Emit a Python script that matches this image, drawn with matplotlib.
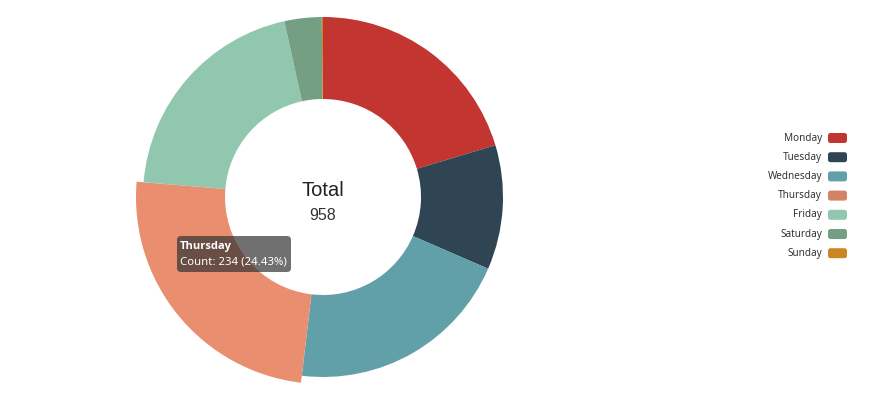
import matplotlib
matplotlib.use("Agg")
import matplotlib.pyplot as plt
from matplotlib.patches import FancyBboxPatch

days = ["Monday", "Tuesday", "Wednesday", "Thursday", "Friday", "Saturday", "Sunday"]
counts = [195, 107, 195, 234, 194, 32, 1]
colors = ["#c23531", "#2f4554", "#61a0a8", "#d48265", "#91c7ae", "#749f83", "#ca8622"]
highlight = "Thursday"
highlight_color = "#e98f70"

W, H = 881, 400
fig = plt.figure(figsize=(W / 100, H / 100), dpi=100)
ax = fig.add_axes([0, 0, 1, 1])

cx, cy = 323, H - 197
r_out, r_in = 180, 98
wedges, _ = ax.pie(counts, colors=colors, startangle=90, counterclock=False,
                   radius=r_out, center=(cx, cy), frame=True,
                   wedgeprops=dict(width=r_out - r_in, linewidth=0, antialiased=True))
ax.set_xlim(0, W)
ax.set_ylim(0, H)
ax.set_aspect("equal")
ax.axis("off")

hi = days.index(highlight)
wedges[hi].set_radius(r_out + 7)
wedges[hi].set_width(r_out + 7 - r_in)
wedges[hi].set_facecolor(highlight_color)

total = sum(counts)
ax.text(cx, H - 190, "Total", ha="center", va="center", fontsize=14.5, color="#222222",
        family="Liberation Sans")
ax.text(cx, H - 216, f"{total}", ha="center", va="center", fontsize=11.5, color="#333333",
        family="Liberation Sans")

# tooltip
tx0, ty0, tx1, ty1 = 177, 236, 291, 272
box = FancyBboxPatch((tx0, H - ty1), tx1 - tx0, ty1 - ty0,
                     boxstyle="round,pad=0,rounding_size=4",
                     facecolor=(0.2, 0.2, 0.2, 0.7), edgecolor="none", zorder=5)
ax.add_patch(box)
pct = counts[hi] / total * 100
ax.text(tx0 + 3, H - 246, highlight, ha="left", va="center", fontsize=8.0,
        color="white", zorder=6, fontweight="bold", family="Open Sans")
ax.text(tx0 + 3, H - 262, f"Count: {counts[hi]} ({pct:.2f}%)", ha="left", va="center",
        fontsize=8.2, color="white", zorder=6, family="Noto Sans")

# legend
ly0, ldy = 138, 19.2
for i, (d, c) in enumerate(zip(days, colors)):
    y = H - (ly0 + i * ldy)
    ax.add_patch(FancyBboxPatch((828, y - 5), 19, 10,
                                boxstyle="round,pad=0,rounding_size=2.5",
                                facecolor=c, edgecolor="none"))
    ax.text(822, y, d, ha="right", va="center", fontsize=7.2, color="#333333",
            family="Noto Sans")

fig.savefig("out.png", dpi=100)
